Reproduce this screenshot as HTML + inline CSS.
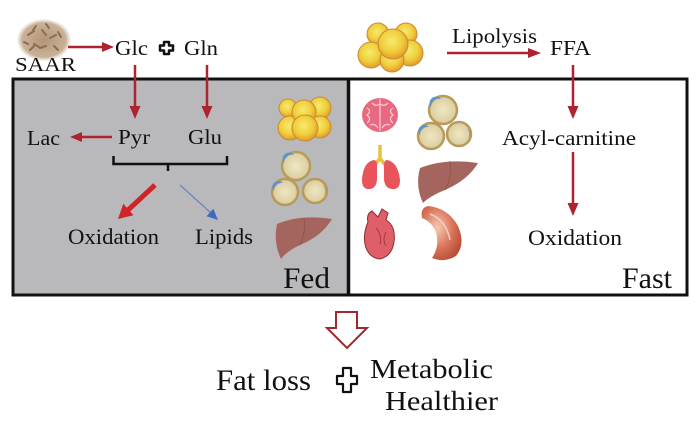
<!DOCTYPE html>
<html><head><meta charset="utf-8"><style>
html,body{margin:0;padding:0;background:#fff;}
svg{display:block;}
text{font-family:"Liberation Serif",serif;fill:#111;}
</style></head><body>
<svg width="700" height="440" viewBox="0 0 700 440" xmlns="http://www.w3.org/2000/svg">
<defs>
<radialGradient id="fat" cx="45%" cy="40%" r="60%">
<stop offset="0" stop-color="#f6ea70"/><stop offset="0.6" stop-color="#f0cf3a"/><stop offset="1" stop-color="#e39a2e"/>
</radialGradient>
<radialGradient id="cell" cx="50%" cy="50%" r="55%">
<stop offset="0" stop-color="#efe6c4"/><stop offset="0.8" stop-color="#ddd0a0"/><stop offset="1" stop-color="#c2a66a"/>
</radialGradient>
<radialGradient id="musc" cx="40%" cy="40%" r="65%">
<stop offset="0" stop-color="#f6c8b0"/><stop offset="0.6" stop-color="#d8735a"/><stop offset="1" stop-color="#b8503a"/>
</radialGradient>
<radialGradient id="saar" cx="50%" cy="50%" r="55%">
<stop offset="0" stop-color="#b49678"/><stop offset="0.75" stop-color="#c9b198"/><stop offset="1" stop-color="#ffffff" stop-opacity="0"/>
</radialGradient>
</defs>

<!-- boxes -->
<rect x="13" y="79" width="336" height="216" fill="#b9b9bb"/>
<rect x="13" y="79" width="674" height="216" fill="none" stroke="#111" stroke-width="3"/>
<line x1="348.5" y1="79" x2="348.5" y2="295" stroke="#111" stroke-width="3.5"/>

<!-- SAAR blob -->
<ellipse cx="44" cy="40" rx="27" ry="21" fill="url(#saar)"/>
<g stroke="#8a6e54" stroke-width="2" stroke-linecap="round" fill="none">
<path d="M28,35 l6,-4 M34,44 l5,3 M42,30 l4,5 M50,38 l6,-3 M40,48 l6,-2 M30,50 l4,-4 M54,46 l4,4 M46,24 l3,4 M36,26 l-3,4 M58,32 l3,5 M24,42 l4,2"/>
</g>
<text x="15" y="71" font-size="20" textLength="61" lengthAdjust="spacingAndGlyphs">SAAR</text>

<!-- SAAR -> Glc -->
<line x1="68" y1="47" x2="104" y2="47" stroke="#ad2330" stroke-width="2.5"/>
<polygon points="102,42 114,47 102,52" fill="#ad2330"/>
<text x="115" y="55" font-size="21" textLength="33" lengthAdjust="spacingAndGlyphs">Glc</text>
<polygon points="164,42 169,42 169,45.5 173,45.5 173,50.5 169,50.5 169,54 164,54 164,50.5 160,50.5 160,45.5 164,45.5" fill="#fff" stroke="#111" stroke-width="2.5" stroke-linejoin="round"/>
<text x="184" y="55" font-size="21" textLength="34" lengthAdjust="spacingAndGlyphs">Gln</text>

<!-- down arrows -->
<line x1="135" y1="65" x2="135" y2="108" stroke="#ad2330" stroke-width="2.5"/>
<polygon points="129.5,106 140.5,106 135,119" fill="#ad2330"/>
<line x1="207" y1="65" x2="207" y2="108" stroke="#ad2330" stroke-width="2.5"/>
<polygon points="201.5,106 212.5,106 207,119" fill="#ad2330"/>

<text x="27" y="145" font-size="21" textLength="33" lengthAdjust="spacingAndGlyphs">Lac</text>
<text x="118" y="144" font-size="21" textLength="32" lengthAdjust="spacingAndGlyphs">Pyr</text>
<text x="188" y="144" font-size="21" textLength="34" lengthAdjust="spacingAndGlyphs">Glu</text>
<line x1="112" y1="137" x2="80" y2="137" stroke="#ad2330" stroke-width="2.5"/>
<polygon points="82,132 70,137 82,142" fill="#ad2330"/>

<!-- bracket -->
<path d="M113.5,156 V164 H227 V156 M168,164 V171" fill="none" stroke="#111" stroke-width="2.5"/>

<!-- red thick arrow -->
<line x1="155" y1="185" x2="127" y2="211" stroke="#d0232a" stroke-width="5"/>
<polygon points="118,219 133.5,215.2 123.3,203.8" fill="#d0232a"/>
<!-- blue thin arrow -->
<line x1="180" y1="185" x2="211" y2="213" stroke="#6a86bc" stroke-width="1.2"/>
<polygon points="218,220 206.5,216.2 213.3,208.8" fill="#3c6cc0"/>

<text x="68" y="244" font-size="22" textLength="91" lengthAdjust="spacingAndGlyphs">Oxidation</text>
<text x="195" y="244" font-size="22" textLength="58" lengthAdjust="spacingAndGlyphs">Lipids</text>
<text x="283" y="288" font-size="30" textLength="47" lengthAdjust="spacingAndGlyphs">Fed</text>

<!-- left icons: fat cluster -->
<g stroke="#c98a34" stroke-width="1">
<circle cx="288" cy="108" r="9" fill="url(#fat)"/>
<circle cx="320" cy="108" r="11" fill="url(#fat)"/>
<circle cx="290" cy="128" r="12" fill="url(#fat)"/>
<circle cx="320" cy="127" r="11" fill="url(#fat)"/>
<circle cx="304" cy="112" r="12" fill="url(#fat)"/>
<circle cx="305" cy="128" r="13" fill="url(#fat)"/>
</g>
<!-- left cells -->
<g stroke="#b89a5c" stroke-width="2.5" fill="url(#cell)">
<circle cx="296" cy="166" r="14"/>
<circle cx="285" cy="192" r="13"/>
<circle cx="315" cy="191" r="12"/>
</g>
<g fill="#5d94cf">
<path d="M284,163 a8,8 0 0 1 10,-8 a6,6 0 0 0 -10,8z"/>
<path d="M274,191 a8,8 0 0 1 9,-8 a6,6 0 0 0 -9,8z"/>
<path d="M322,185 a7,7 0 0 1 2,10 a6,6 0 0 0 -2,-10z"/>
</g>
<!-- left liver -->
<path d="M277,224 Q300,214 332,219 Q322,236 300,245 Q287,251 281,259 Q273,242 277,224 Z" fill="#a4655e"/>
<path d="M304,218 Q306,232 300,245" stroke="#8e5049" stroke-width="0.8" fill="none"/>

<!-- right top fat cluster -->
<g stroke="#c98a34" stroke-width="1">
<circle cx="378" cy="34" r="11" fill="url(#fat)"/>
<circle cx="406" cy="34" r="11" fill="url(#fat)"/>
<circle cx="371" cy="55" r="13" fill="url(#fat)"/>
<circle cx="410" cy="53" r="13" fill="url(#fat)"/>
<circle cx="392" cy="60" r="12" fill="url(#fat)"/>
<circle cx="393" cy="44" r="15" fill="url(#fat)"/>
</g>

<text x="452" y="43" font-size="21" textLength="85" lengthAdjust="spacingAndGlyphs">Lipolysis</text>
<line x1="447" y1="53" x2="530" y2="53" stroke="#ad2330" stroke-width="2.5"/>
<polygon points="528,48 541,53 528,58" fill="#ad2330"/>
<text x="550" y="55" font-size="21" textLength="41" lengthAdjust="spacingAndGlyphs">FFA</text>
<line x1="573" y1="65" x2="573" y2="108" stroke="#ad2330" stroke-width="2.5"/>
<polygon points="567.5,106 578.5,106 573,119" fill="#ad2330"/>
<text x="502" y="145" font-size="21" textLength="134" lengthAdjust="spacingAndGlyphs">Acyl-carnitine</text>
<line x1="573" y1="152" x2="573" y2="205" stroke="#ad2330" stroke-width="2.5"/>
<polygon points="567.5,203 578.5,203 573,216" fill="#ad2330"/>
<text x="528" y="245" font-size="22" textLength="94" lengthAdjust="spacingAndGlyphs">Oxidation</text>
<text x="622" y="288" font-size="30" textLength="50" lengthAdjust="spacingAndGlyphs">Fast</text>

<!-- brain -->
<ellipse cx="380" cy="115" rx="18" ry="17" fill="#e86a80"/>
<path d="M380,99 V131 M367,108 q5,3 0,7 q5,4 0,8 M393,108 q-5,3 0,7 q-5,4 0,8 M372,103 q4,4 8,1 M388,103 q-4,4 -8,1 M370,125 q5,-2 8,3 M390,125 q-5,-2 -8,3" stroke="#f7c6cf" stroke-width="1.3" fill="none"/>
<!-- right cells -->
<g stroke="#b89a5c" stroke-width="2.5" fill="url(#cell)">
<circle cx="443" cy="110" r="14"/>
<circle cx="431" cy="136" r="13"/>
<circle cx="459" cy="134" r="12"/>
</g>
<g fill="#5d94cf">
<path d="M431,107 a8,8 0 0 1 10,-8 a6,6 0 0 0 -10,8z"/>
<path d="M420,135 a8,8 0 0 1 9,-8 a6,6 0 0 0 -9,8z"/>
<path d="M466,128 a7,7 0 0 1 2,10 a6,6 0 0 0 -2,-10z"/>
</g>
<!-- lungs -->
<path d="M380,145 V160 M380,158 L375,165 M380,158 L385,165" stroke="#e8c040" stroke-width="3.5" fill="none"/>
<path d="M374,160 Q363,162 362,180 Q362,190 370,189 Q377,188 377,178 L377,166 Q377,160 374,160Z" fill="#e8545a"/>
<path d="M387,160 Q398,162 400,180 Q400,190 392,189 Q384,188 384,178 L384,166 Q384,160 387,160Z" fill="#e8545a"/>
<!-- right liver -->
<path d="M420,168 Q445,158 478,163 Q468,180 445,190 Q430,196 423,203 Q415,186 420,168 Z" fill="#a4655e"/>
<path d="M450,161 Q452,178 445,190" stroke="#8e5049" stroke-width="0.8" fill="none"/>
<!-- heart -->
<path d="M368,222 Q366,214 372,211 L378,217 L382,209 L388,213 L386,220 Q396,226 394,242 Q392,256 380,259 Q370,258 366,248 Q362,236 368,222Z" fill="#e05e68" stroke="#8a2a30" stroke-width="1"/>
<path d="M376,228 q6,6 4,16 M386,232 q-4,8 0,14" stroke="#9a3038" stroke-width="0.8" fill="none"/>
<!-- muscle -->
<path d="M428,206 Q448,208 458,226 Q466,244 456,256 Q444,263 432,258 Q440,246 436,232 Q432,222 422,218 Q420,208 428,206Z" fill="url(#musc)"/>
<path d="M430,214 Q446,220 450,240" stroke="#f3d0c0" stroke-width="1.5" fill="none"/>

<!-- hollow arrow -->
<polygon points="336,312 357,312 357,328 367,328 347,348 327,328 336,328" fill="#fff" stroke="#a0282a" stroke-width="2" stroke-linejoin="miter"/>

<text x="216" y="390" font-size="30" textLength="95" lengthAdjust="spacingAndGlyphs">Fat loss</text>
<polygon points="343,368 351,368 351,376 357,376 357,384 351,384 351,392 343,392 343,384 337,384 337,376 343,376" fill="#fff" stroke="#111" stroke-width="2.2" stroke-linejoin="round"/>
<text x="370" y="378" font-size="27" textLength="123" lengthAdjust="spacingAndGlyphs">Metabolic</text>
<text x="385" y="410" font-size="27" textLength="113" lengthAdjust="spacingAndGlyphs">Healthier</text>
</svg>
</body></html>
